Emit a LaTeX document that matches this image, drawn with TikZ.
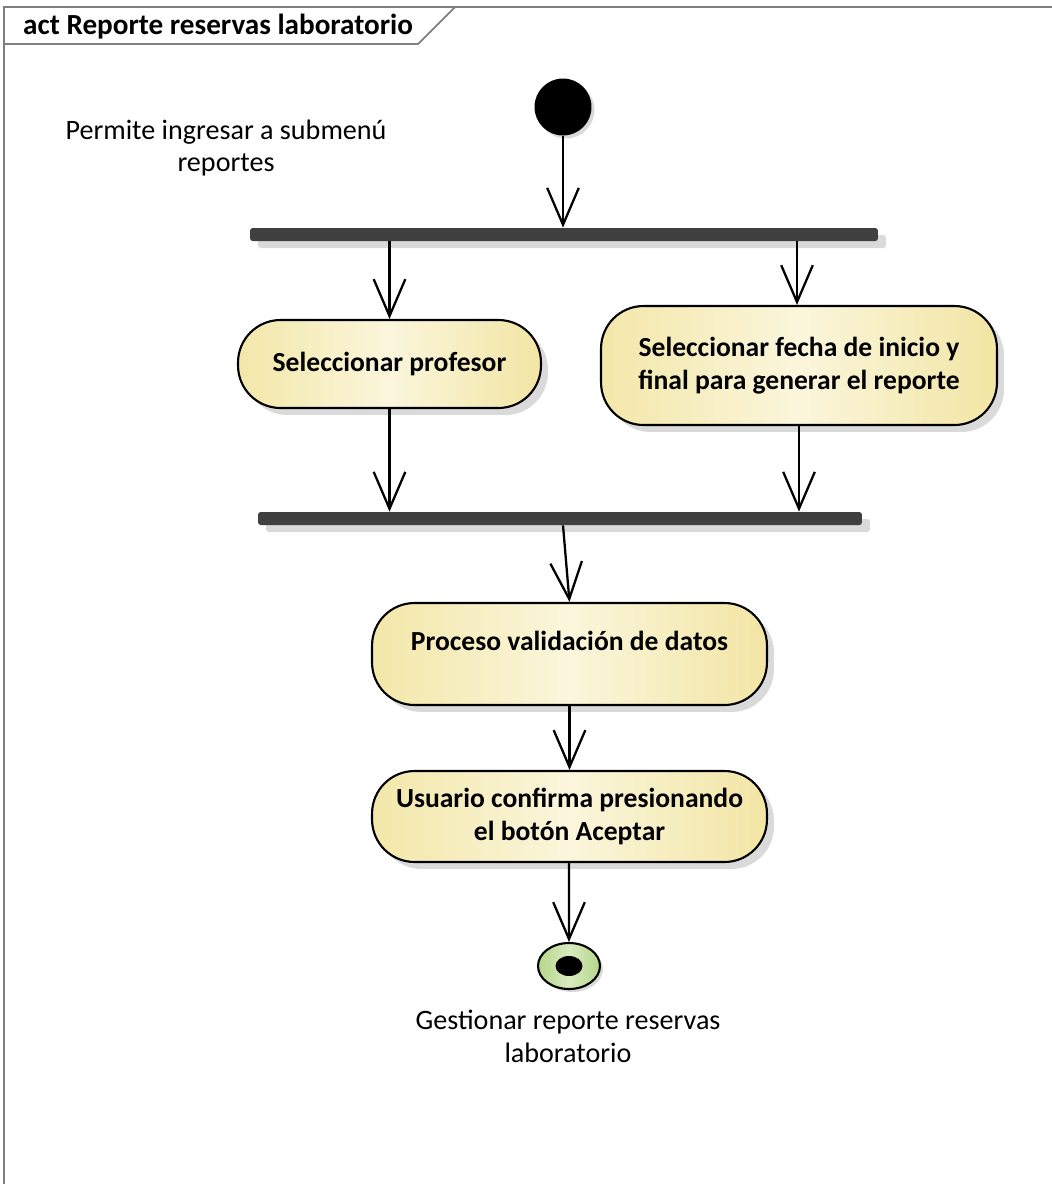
\documentclass[tikz,border=0pt]{standalone}
\usepackage{fontspec}
\setmainfont{Carlito}
\usetikzlibrary{arrows.meta,shapes.geometric,shadows}
\definecolor{barfill}{HTML}{404040}
\definecolor{shadowgray}{HTML}{DADADA}
\definecolor{actleft}{HTML}{F3E7A9}
\definecolor{actmid}{HTML}{FBF6DC}
\definecolor{actright}{HTML}{F2E5A4}
\definecolor{endgreen}{HTML}{B5D68A}
\definecolor{endlight}{HTML}{D8EBBF}
\definecolor{framegray}{HTML}{7F7F7F}

\begin{document}
\begin{tikzpicture}[x=0.02cm,y=-0.02cm,
  every node/.style={font=\fontsize{16}{18.7}\selectfont},
  action/.style={draw, line width=1.2pt, rounded corners=0.85cm, align=center,
    font=\fontsize{15.7}{18.7}\selectfont\bfseries,
    left color=actleft, right color=actright, middle color=actmid,
    drop shadow={shadow xshift=0.14cm, shadow yshift=-0.14cm, fill=shadowgray, opacity=1}},
  bar/.style={fill=barfill, rounded corners=1.5pt, minimum height=0.26cm, inner sep=0pt,
    drop shadow={shadow xshift=0.16cm, shadow yshift=-0.14cm, fill=shadowgray, opacity=1}},
  flow/.style={line width=1.3pt, -{Straight Barb[length=21pt,width=18pt]}}]
\useasboundingbox (0,0) rectangle (1052,1184);
% frame and title tab
\draw[framegray, line width=1.2pt] (1052,7) -- (4,7) -- (4,1184);
\draw[framegray, line width=1pt] (4,44) -- (418,44) -- (455,7);
\node[anchor=west, font=\fontsize{16.6}{19}\selectfont\bfseries] (title) at (17,27) {act Reporte reservas laboratorio};
% start and notes
\node[circle, fill=black, minimum size=1.14cm, inner sep=0pt,
  drop shadow={shadow xshift=0.06cm, shadow yshift=-0.06cm, fill=shadowgray, opacity=1}] (start) at (563,107) {};
\node[align=center] (startnote) at (226,148) {Permite ingresar a submenú\\reportes};
% fork and join bars
\node[bar, minimum width=12.56cm] (fork1) at (564,234.5) {};
\node[bar, minimum width=12.08cm] (fork2) at (560,518.5) {};
% actions
\node[action, minimum width=6.06cm, minimum height=1.76cm] (prof) at (389.5,364) {Seleccionar profesor};
\node[action, minimum width=7.92cm, minimum height=2.38cm] (fecha) at (799,365.5) {Seleccionar fecha de inicio y\\final para generar el reporte};
\node[action, minimum width=7.9cm, minimum height=2.04cm, text depth=14.6pt] (valid) at (569.5,654) {Proceso validación de datos};
\node[action, minimum width=7.9cm, minimum height=1.82cm] (confirm) at (569.5,816.5) {Usuario confirma presionando\\el botón Aceptar};
% final
\node[ellipse, draw, line width=1.2pt, minimum width=1.24cm, minimum height=0.92cm, inner sep=0pt,
  left color=endgreen, right color=endgreen, middle color=endlight,
  drop shadow={shadow xshift=0.06cm, shadow yshift=-0.06cm, fill=shadowgray, opacity=1}] (final) at (569,966) {};
\node[ellipse, fill=black, minimum width=0.54cm, minimum height=0.4cm, inner sep=0pt] (finaldot) at (final) {};
\node[align=center] (endnote) at (568,1036) {Gestionar reporte reservas\\laboratorio};
% flows
\draw[flow] (start) -- (start |- fork1.north);
\draw[flow] (fork1.south -| prof.north) -- (prof.north);
\draw[flow] ([xshift=-0.04cm]fork1.south -| fecha.north) -- ([xshift=-0.04cm]fecha.north);
\draw[flow] (prof.south) -- (prof.south |- fork2.north);
\draw[flow] (fecha.south) -- (fecha.south |- fork2.north);
\draw[flow] ([xshift=0.06cm]fork2.south) -- (valid.north);
\draw[flow] (valid.south) -- (confirm.north);
\draw[flow] ([xshift=-0.01cm]confirm.south) -- (final.north);
\end{tikzpicture}
\end{document}
